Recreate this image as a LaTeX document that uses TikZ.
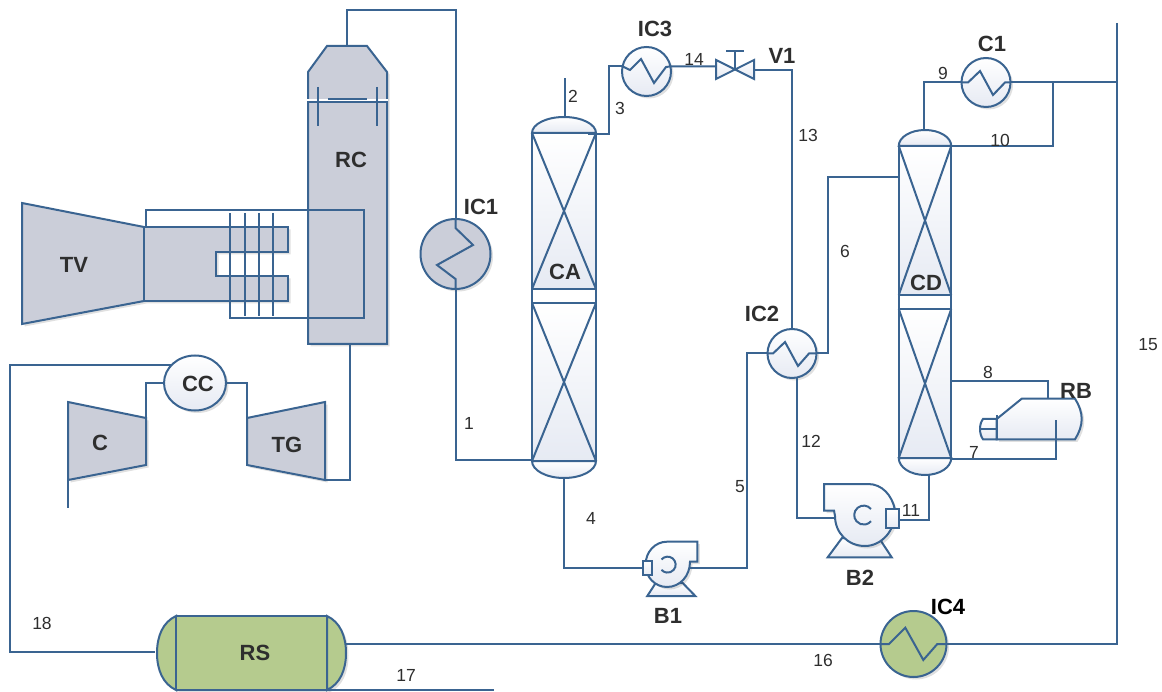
\documentclass[tikz,border=0pt]{standalone}
\usepackage{fontspec}
\setmainfont{Liberation Sans}
\usepackage{xcolor}
\usepackage{tikz}
\usetikzlibrary{
  calc,
  shadows,
  shapes.geometric
}
\definecolor{azulLinha}{HTML}{3A6491}
\definecolor{cinzaEquip}{HTML}{CBCED9}
\definecolor{azulClaro}{HTML}{E6EAF3}
\definecolor{verdeVaso}{HTML}{B5CB8E}
\definecolor{textoEsc}{HTML}{2E2E2E}

\begin{document}
\begin{tikzpicture}[
      x=1pt, y=-1pt,
      sombra/.style={drop shadow={shadow xshift=2.5pt, shadow yshift=-2.5pt, opacity=0.12, fill=black}},
      tubo/.style={azulLinha, line width=2pt, line join=miter},
      cinza/.style={draw=azulLinha, line width=2pt, fill=cinzaEquip, sombra},
      claro/.style={draw=azulLinha, line width=2pt, top color=white, bottom color=azulClaro},
      verde/.style={draw=azulLinha, line width=2pt, fill=verdeVaso},
      trocador/.style={circle, claro, sombra, minimum size=49pt, inner sep=0pt, outer sep=0pt},
      secao/.style={rectangle, claro, inner sep=0pt, outer sep=0pt},
      rotulo/.style={font=\fontsize{22}{24}\selectfont\bfseries, text=textoEsc, inner sep=0pt},
      num/.style={font=\fontsize{17.5}{20}\selectfont, text=textoEsc, inner sep=0pt}
  ]
      \useasboundingbox (0,0) rectangle (1162,692);

      % Regenerador e caldeira
      \draw[cinza] (308,344) -- (308,72) -- (327,46) -- (367,46) -- (387,72) -- (387,344) -- cycle;
      \draw[white, line width=1.2pt] (307,100) -- (388,100);
      \draw[tubo] (308,102) -- (387,102);
      \draw[tubo] (328,99.5) -- (367,99.5);
      \draw[tubo] (318,87) -- (318,126);
      \draw[tubo] (377,87) -- (377,126);
      \coordinate (rcTopo) at (347,46);
      \coordinate (rcBase) at (350,344);

      % Turbina a vapor
      \draw[cinza] (22,203) -- (144,227) -- (144,301) -- (22,324) -- cycle;
      \draw[cinza] (144,227) -- (288,227) -- (288,252) -- (216,252) -- (216,276)
                   -- (288,276) -- (288,301) -- (144,301) -- cycle;
      \draw[tubo] (146,227) -- (146,210) -- (364,210) -- (364,318) -- (230,318) -- (230,213);
      \foreach \xv in {245,259,273} {
        \draw[tubo] (\xv,213) -- (\xv,316);
      }

      % Compressor e turbina a gas
      \node[ellipse, claro, sombra, minimum width=62pt, minimum height=55pt, inner sep=0pt, outer sep=0pt] (cc) at (195,383) {};
      \draw[cinza] (68,402) -- (146,418) -- (146,465) -- (68,480) -- cycle;
      \draw[cinza] (247,418) -- (325,402) -- (325,480) -- (247,465) -- cycle;
      \coordinate (cEnt) at (146,418);
      \coordinate (cAr) at (68,480);
      \coordinate (cLivre) at (68,508);
      \coordinate (tgEnt) at (247,440);
      \coordinate (tgSai) at (325,480);

      % Vaso separador
      \fill[verdeVaso, sombra] (176,616) rectangle (327,690);
      \draw[verde, sombra] (176,616) .. controls (163,622) and (157,636) .. (157,653)
                   .. controls (157,670) and (163,684) .. (176,690) -- cycle;
      \draw[verde, sombra] (327,616) .. controls (340,622) and (346,636) .. (346,653)
                   .. controls (346,670) and (340,684) .. (327,690) -- cycle;
      \fill[verdeVaso] (176,616) rectangle (327,690);
      \draw[tubo] (176,616) -- (327,616);
      \draw[tubo] (176,690) -- (327,690);
      \draw[tubo] (176,616) -- (176,690);
      \draw[tubo] (327,616) -- (327,690);
      \coordinate (rsEsq) at (155,652);
      \coordinate (rsDir) at (346,644);
      \coordinate (rsBase) at (327,690);
      \coordinate (livre17) at (494,690);

      % Trocadores de calor
      \node[circle, cinza, minimum size=70pt, inner sep=0pt, outer sep=0pt] (ic1) at (455.5,254) {};
      \node[trocador] (ic3) at (646.5,71.5) {};
      \node[trocador] (ic2) at (792,353.5) {};
      \node[trocador] (c1) at (986,82.5) {};
      \node[circle, verde, sombra, minimum size=66pt, inner sep=0pt, outer sep=0pt] (ic4) at (913.5,644) {};
      \draw[tubo] (ic1.north) -- (455.5,228) -- (473,245) -- (437,265) -- (455.5,279) -- (ic1.south);
      \draw[tubo] (ic3.168) -- (630,70) -- (641,59) -- (654,83) -- (666,67) -- (ic3.12);
      \draw[tubo] (ic2.west) -- (773,353.5) -- (785,342) -- (798,366) -- (809,353.5) -- (ic2.east);
      \draw[tubo] (c1.west) -- (968,82.5) -- (980,71) -- (993,95) -- (1005,82.5) -- (c1.east);
      \draw[tubo] (ic4.west) -- (889,644) -- (905.3,627.7) -- (923.3,660) -- (937.3,644) -- (ic4.east);

      % Coluna de absorcao
      \node[secao, minimum width=64pt, minimum height=156pt] (cas) at (564,211) {};
      \node[secao, minimum width=64pt, minimum height=158pt] (cai) at (564,382) {};
      \draw[tubo] (cas.south west) -- (cai.north west);
      \draw[tubo] (cas.south east) -- (cai.north east);
      \draw[claro] (cas.north west) arc[start angle=180, end angle=0, x radius=32pt, y radius=16pt] -- cycle;
      \draw[claro] (cai.south west) arc[start angle=180, end angle=360, x radius=32pt, y radius=17pt] -- cycle;
      \draw[tubo] (cas.north west) -- (cas.south east);
      \draw[tubo] (cas.north east) -- (cas.south west);
      \draw[tubo] (cai.north west) -- (cai.south east);
      \draw[tubo] (cai.north east) -- (cai.south west);
      \coordinate (caTopo) at (565,117);
      \coordinate (caBase) at (564,478);
      \coordinate (caSai) at (588,134);
      \coordinate (caEnt) at (532,460);
      \coordinate (livre2) at (565,78);

      % Coluna de destilacao
      \node[secao, minimum width=52.5pt, minimum height=149pt] (cds) at (925,220.5) {};
      \node[secao, minimum width=52.5pt, minimum height=149pt] (cdi) at (925,383.5) {};
      \draw[tubo] (cds.south west) -- (cdi.north west);
      \draw[tubo] (cds.south east) -- (cdi.north east);
      \draw[claro] (cds.north west) arc[start angle=180, end angle=0, x radius=26.25pt, y radius=16pt] -- cycle;
      \draw[claro] (cdi.south west) arc[start angle=180, end angle=360, x radius=26.25pt, y radius=17pt] -- cycle;
      \draw[tubo] (cds.north west) -- (cds.south east);
      \draw[tubo] (cds.north east) -- (cds.south west);
      \draw[tubo] (cdi.north west) -- (cdi.south east);
      \draw[tubo] (cdi.north east) -- (cdi.south west);
      \coordinate (cdTopo) at (924,130);
      \coordinate (cdBase) at (929,475);
      \coordinate (cdEnt) at (898.5,177);
      \coordinate (cd8) at (951,381);
      \coordinate (cd7) at (951,459);

      % Refervedor
      \draw[claro, sombra] (996.7,419) -- (1021.7,398.7) -- (1075,398.7)
                   .. controls (1079,405) and (1081.7,412) .. (1081.7,419)
                   .. controls (1081.7,426) and (1079,433) .. (1075,439.3)
                   -- (996.7,439.3) -- cycle;
      \draw[claro] (996.7,419) -- (983,419) .. controls (979,424) and (979,434) .. (983,439.3) -- (996.7,439.3) -- cycle;
      \draw[tubo] (981,429) -- (996.7,429);
      \draw[tubo] (996.7,415) -- (996.7,439.3);
      \coordinate (rbTopo) at (1048,398.7);
      \coordinate (rbBase) at (1056,420);

      % Valvula
      \draw[claro] (716,60) -- (735,69.5) -- (716,79) -- cycle;
      \draw[claro] (754,60) -- (735,69.5) -- (754,79) -- cycle;
      \draw[tubo] (735,69.5) -- (735,51);
      \draw[tubo] (726,51) -- (744,51);
      \coordinate (vEnt) at (716,66.4);
      \coordinate (vSai) at (754,70.5);

      % Bomba 1
      \draw[claro] (647.3,596) -- (655.7,583) -- (682.7,583) -- (695.3,596) -- cycle;
      \draw[claro, sombra] (667,541.7) -- (697.3,541.7) -- (697.3,561.7) -- (690,561.7)
                   .. controls (690,576) and (680,587) .. (667,587)
                   .. controls (655,587) and (645.5,577) .. (645.5,565)
                   .. controls (645.5,552) and (655,541.7) .. (667,541.7) -- cycle;
      \draw[tubo] (661.5,559.5) arc[start angle=140, end angle=-140, radius=8pt];
      \node[secao, minimum width=9.5pt, minimum height=14.5pt] (b1) at (647.5,568) {};
      \coordinate (b1Sai) at (690,568);

      % Bomba 2
      \draw[claro] (827.7,557.3) -- (842,538) -- (879,538) -- (891.7,557.3) -- cycle;
      \draw[claro, sombra] (824,484) -- (868,484)
                   .. controls (882,484) and (892,495) .. (895,510)
                   .. controls (896,531) and (881,546) .. (865,546)
                   .. controls (848,546) and (835,533) .. (835,516) -- (834,510.5)
                   -- (824,510.5) -- cycle;
      \draw[tubo] (871,509) arc[start angle=40, end angle=320, radius=9.5pt];
      \node[secao, minimum width=12.5pt, minimum height=19pt] (b2) at (892.5,518.5) {};
      \coordinate (b2Ent) at (835,518);
      \coordinate (b2Sai) at (899,520);

      % Tubulacoes
      \draw[tubo] (rcTopo) -- (347,10.5) -- (455.5,10.5) -- (ic1.north);
      \draw[tubo] (ic1.south) |- (caEnt);
      \draw[tubo] (caTopo) -- (livre2);
      \draw[tubo] (caSai) -- (609,134) |- (ic3.168);
      \draw[tubo] (ic3.12) -- (vEnt);
      \draw[tubo] (vSai) -| (ic2.north);
      \draw[tubo] (caBase) |- (b1.west);
      \draw[tubo] (b1Sai) -- (746.5,568) |- (ic2.west);
      \draw[tubo] (ic2.east) -- (828,353.5) -- (828,177) -- (cdEnt);
      \draw[tubo] (ic2.-78) |- (b2Ent);
      \draw[tubo] (b2Sai) -| (cdBase);
      \draw[tubo] (cdTopo) |- (c1.west);
      \draw[tubo] (c1.east) -- (1117,82.5);
      \draw[tubo] (1053,82.5) -- (1053,146) -- (951,146);
      \draw[tubo] (cd8) -| (rbTopo);
      \draw[tubo] (cd7) -| (rbBase);
      \draw[tubo] (1117,23) |- (ic4.east);
      \draw[tubo] (ic4.west) -- (rsDir);
      \draw[tubo] (rsBase) -- (livre17);
      \draw[tubo] (rsEsq) -- (9.5,652) -- (9.5,365) -- (171,365);
      \draw[tubo] (cc.west) -| (cEnt);
      \draw[tubo] (cc.east) -| (tgEnt);
      \draw[tubo] (cAr) -- (cLivre);
      \draw[tubo] (tgSai) -| (rcBase);

      % Rotulos dos equipamentos
      \node[rotulo] (lRC) at (351,160) {RC};
      \node[rotulo] (lTV) at (74,265) {TV};
      \node[rotulo] (lIC1) at (481,207) {IC1};
      \node[rotulo] (lIC3) at (655,29) {IC3};
      \node[rotulo] (lV1) at (782,56) {V1};
      \node[rotulo] (lC1) at (992,44) {C1};
      \node[rotulo] (lIC2) at (762,314) {IC2};
      \node[rotulo] (lCA) at (565,272) {CA};
      \node[rotulo] (lCD) at (926,283) {CD};
      \node[rotulo] (lRB) at (1076,391) {RB};
      \node[rotulo] (lB1) at (668,616) {B1};
      \node[rotulo] (lB2) at (860,578) {B2};
      \node[rotulo, text=black] (lIC4) at (948,607) {IC4};
      \node[rotulo] (lCC) at (198,384) {CC};
      \node[rotulo] (lC) at (100,443) {C};
      \node[rotulo] (lTG) at (287,445) {TG};
      \node[rotulo] (lRS) at (255,653) {RS};

      % Numeros das correntes
      \node[num] (n1) at (469,423) {1};
      \node[num] (n2) at (573,96) {2};
      \node[num] (n3) at (620,108) {3};
      \node[num] (n4) at (591,518) {4};
      \node[num] (n5) at (740,487) {5};
      \node[num] (n6) at (845,251) {6};
      \node[num] (n7) at (974,452) {7};
      \node[num] (n8) at (988,372) {8};
      \node[num] (n9) at (943,73) {9};
      \node[num] (n10) at (1000,140) {10};
      \node[num] (n11) at (911,510) {11};
      \node[num] (n12) at (811,441) {12};
      \node[num] (n13) at (808,135) {13};
      \node[num] (n14) at (694,59) {14};
      \node[num] (n15) at (1148,345) {15};
      \node[num] (n16) at (823,660) {16};
      \node[num] (n17) at (406,675) {17};
      \node[num] (n18) at (42,623) {18};
  \end{tikzpicture}
\end{document}
